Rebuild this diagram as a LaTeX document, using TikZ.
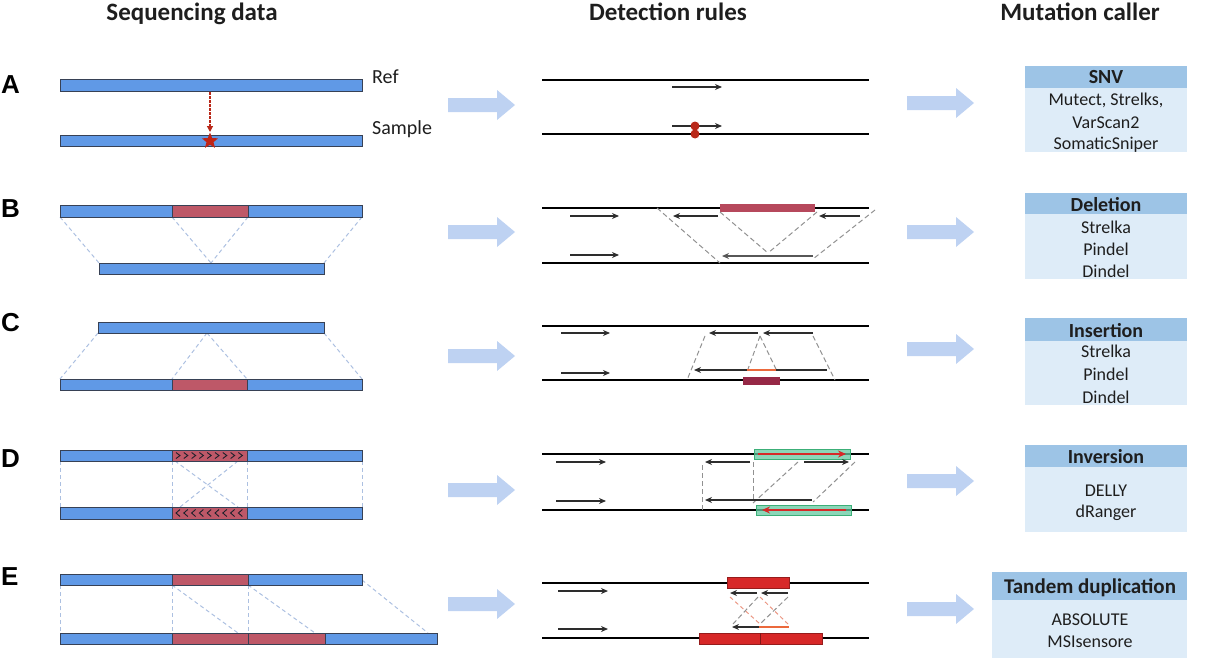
\documentclass[tikz,border=0pt]{standalone}
\usepackage{fontspec}
\setmainfont{Carlito}
\newfontfamily\arialf{Liberation Sans}
\usetikzlibrary{arrows.meta,shapes.geometric}
\definecolor{barblue}{RGB}{96,153,230}
\definecolor{barline}{RGB}{55,65,85}
\definecolor{barred}{RGB}{190,88,104}
\definecolor{guidec}{RGB}{172,192,225}
\definecolor{gdash}{RGB}{145,145,145}
\definecolor{bigarr}{RGB}{190,210,242}
\definecolor{hdrblue}{RGB}{157,196,230}
\definecolor{bodyblue}{RGB}{222,236,248}
\definecolor{readgray}{RGB}{45,45,45}
\definecolor{dotred}{RGB}{185,40,25}
\definecolor{bred}{RGB}{182,72,92}
\definecolor{cred}{RGB}{150,40,70}
\definecolor{ered}{RGB}{215,40,40}
\definecolor{ored}{RGB}{235,105,60}
\definecolor{pinkd}{RGB}{235,150,130}
\definecolor{greenf}{RGB}{100,200,160}
\definecolor{greend}{RGB}{60,175,120}
\definecolor{txt}{RGB}{30,30,30}
\tikzset{
  bar/.style={fill=barblue, draw=barline, line width=0.8pt},
  redseg/.style={fill=barred, draw=barline, line width=0.8pt},
  guidel/.style={draw=guidec, line width=1pt, dash pattern=on 4pt off 3pt},
  chrom/.style={line width=2.6pt, black},
  readarr/.style={line width=1.6pt, draw=readgray, -{Stealth[length=7pt,width=6pt]}},
  gd/.style={draw=gdash, line width=1pt, dash pattern=on 5pt off 3pt},
  lab/.style={font=\arialf\bfseries\fontsize{26}{26}\selectfont, anchor=base west, inner sep=0pt},
  coltitle/.style={font=\bfseries\fontsize{25}{25}\selectfont, anchor=base, inner sep=0pt, text=txt},
  hdr/.style={fill=hdrblue},
  bodyb/.style={fill=bodyblue},
  htxt/.style={font=\bfseries\fontsize{20}{20}\selectfont, anchor=base, inner sep=0pt, text=txt},
  btxt/.style={font=\fontsize{18}{18}\selectfont, anchor=base, inner sep=0pt, text=txt},
  side/.style={font=\fontsize{20}{20}\selectfont, anchor=base west, inner sep=0pt, text=txt},
  bigarrow/.pic={\fill[bigarr] (0,-7) -- (49,-7) -- (49,-15) -- (67,0) -- (49,15) -- (49,7) -- (0,7) -- cycle;}
}
\begin{document}
\begin{tikzpicture}[x=1pt,y=-1pt]
\useasboundingbox (0,0) rectangle (1223,661);
% column titles
\node[coltitle] (t1) at (192,21) {Sequencing data};
\node[coltitle] (t2) at (668,21) {Detection rules};
\node[coltitle] (t3) at (1080,21) {Mutation caller};
% row labels
\node[lab] (lA) at (1,93) {A};
\node[lab] (lB) at (1,217) {B};
\node[lab] (lC) at (1,331) {C};
\node[lab] (lD) at (1,467) {D};
\node[lab] (lE) at (1,585) {E};
% big arrows
\foreach \y in {105,232,356,490,604} \pic at (448,\y) {bigarrow};
\foreach \y in {103,232,349,481,609} \pic at (907,\y) {bigarrow};

% ===== Row A left
\draw[bar] (60,79) rectangle (362,91);
\draw[bar] (60,135) rectangle (362,146);
\draw[dotred, line width=1.2pt, dash pattern=on 2.5pt off 1.5pt, -{Triangle[length=6pt,width=6pt]}] (210,92) -- (210,132);
\node[star, star points=5, star point ratio=2.3, fill=dotred!90!red, minimum size=17pt, inner sep=0pt] (st) at (210,141) {};
\node[side] (ref) at (372,83) {Ref};
\node[side] (smp) at (372,134) {Sample};
% ===== Row A middle
\draw[chrom] (542,80) -- (869,80);
\draw[chrom] (542,134) -- (869,134);
\draw[readarr] (672,87) -- (722,87);
\draw[readarr] (672,126) -- (722,126);
\fill[dotred] (695,126) circle (4.5pt);
\fill[dotred] (695,134) circle (4.5pt);

% ===== Row B left
\draw[guidel] (60,217) -- (99,263);
\draw[guidel] (172,217) -- (211,263);
\draw[guidel] (248,217) -- (211,263);
\draw[guidel] (362,217) -- (324,263);
\draw[bar] (60,205) rectangle (362,217);
\draw[redseg] (172,205) rectangle (248,217);
\draw[bar] (99,263) rectangle (324,274);
% ===== Row B middle
\draw[chrom] (542,208) -- (869,208);
\draw[chrom] (542,263) -- (869,263);
\fill[bred] (720,204) rectangle (815,212);
\draw[gd] (657,208) -- (720,263);
\draw[gd] (720,212) -- (768,253);
\draw[gd] (817,212) -- (768,253);
\draw[gd] (875,210) -- (813,259);
\draw[readarr] (570,216) -- (619,216);
\draw[readarr] (718,216) -- (673,216);
\draw[readarr] (860,216) -- (819,216);
\draw[readarr] (570,255) -- (619,255);
\draw[readarr, line width=2pt, draw=gdash!60!black] (813,256) -- (722,256);

% ===== Row C left
\draw[guidel] (98,333) -- (60,379);
\draw[guidel] (207,333) -- (172,379);
\draw[guidel] (207,333) -- (247,379);
\draw[guidel] (324,333) -- (362,379);
\draw[bar] (98,322) rectangle (324,333);
\draw[bar] (60,379) rectangle (362,390);
\draw[redseg] (172,379) rectangle (247,390);
% ===== Row C middle
\draw[chrom] (542,326) -- (869,326);
\draw[chrom] (542,380) -- (869,380);
\draw[gd] (705,336) -- (687,380);
\draw[gd] (760,336) -- (748,369);
\draw[gd] (760,336) -- (776,369);
\draw[gd] (813,336) -- (835,380);
\draw[readarr] (561,333) -- (610,333);
\draw[readarr] (758,333) -- (709,333);
\draw[readarr] (813,333) -- (763,333);
\draw[readarr] (561,373) -- (610,373);
\draw[readarr] (827,370) -- (694,370);
\draw[ored, line width=2.8pt] (747,370) -- (776,370);
\fill[cred] (743,377) rectangle (780,385);

% ===== Row D left
\foreach \x in {60,172,247,362} \draw[guidel] (\x,461) -- (\x,507);
\draw[guidel] (175,461) -- (238,507);
\draw[guidel] (238,461) -- (180,507);
\draw[bar] (60,450) rectangle (362,461);
\draw[redseg] (172,450) rectangle (247,461);
\foreach \i in {0,...,8} \draw[barline!50!black, line width=0.9pt] ({176+\i*7.8},452.5) -- ({180+\i*7.8},455.5) -- ({176+\i*7.8},458.5);
\draw[bar] (60,507) rectangle (362,519);
\draw[redseg] (172,507) rectangle (247,519);
\foreach \i in {0,...,8} \draw[barline!50!black, line width=0.9pt] ({180+\i*7.8},509.5) -- ({176+\i*7.8},513) -- ({180+\i*7.8},516.5);
% ===== Row D middle
\draw[chrom] (542,454) -- (869,454);
\draw[chrom] (542,510) -- (869,510);
\filldraw[fill=greenf, fill opacity=0.75, draw=greend, line width=1pt] (754,449) rectangle (850,459);
\filldraw[fill=greenf, fill opacity=0.75, draw=greend, line width=1pt] (756,505) rectangle (851,515);
\draw[ered, line width=1.8pt, -{Stealth[length=8pt,width=7pt]}] (758,454) -- (846,454);
\draw[ered, line width=1.8pt, -{Stealth[length=8pt,width=7pt]}] (846,510) -- (762,510);
\draw[gd] (702,465) -- (702,510);
\draw[gd] (753,462) -- (753,503);
\draw[gd] (798,462) -- (753,503);
\draw[gd] (855,462) -- (813,502);
\draw[readarr] (556,462) -- (606,462);
\draw[readarr] (750,462) -- (705,462);
\draw[readarr] (804,462) -- (849,462);
\draw[readarr] (556,501) -- (606,501);
\draw[readarr] (812,500) -- (705,500);

% ===== Row E left
\foreach \x in {60,172,248} \draw[guidel] (\x,585) -- (\x,633);
\draw[guidel] (172,585) -- (238,633);
\draw[guidel] (248,585) -- (315,633);
\draw[guidel] (362,580) -- (428,633);
\draw[bar] (60,574) rectangle (362,585);
\draw[redseg] (172,574) rectangle (248,585);
\draw[bar] (60,633) rectangle (437,644);
\draw[redseg] (172,633) rectangle (248,644);
\draw[redseg] (248,633) rectangle (325,644);
% ===== Row E middle
\draw[chrom] (542,583) -- (869,583);
\draw[chrom] (542,638) -- (869,638);
\filldraw[fill=ered, draw=ered!70!black, line width=0.6pt] (727,577) rectangle (789,588);
\filldraw[fill=ered, draw=ered!70!black, line width=0.6pt] (699,633) rectangle (822,644);
\draw[ered!60!black, line width=0.8pt] (760,633) -- (760,644);
\draw[draw=pinkd, line width=1pt, dash pattern=on 4pt off 3pt] (730,597) -- (760,624);
\draw[draw=pinkd, line width=1pt, dash pattern=on 4pt off 3pt] (760,597) -- (788,624);
\draw[gd] (758,597) -- (733,624);
\draw[gd] (788,597) -- (760,624);
\draw[readarr] (558,591) -- (608,591);
\draw[readarr] (757,593) -- (730,593);
\draw[readarr] (788,593) -- (761,593);
\draw[readarr] (558,629) -- (608,629);
\draw[readarr] (759,627) -- (732,627);
\draw[ored, line width=1.8pt] (759,627) -- (789,627);

% ===== Right boxes
% SNV
\fill[bodyb] (1025,88) rectangle (1187,152);
\fill[hdr] (1025,66) rectangle (1187,88);
\node[htxt] (snv) at (1106,84) {SNV};
\node[btxt] (snv1) at (1106,105) {Mutect, Strelks,};
\node[btxt] (snv2) at (1106,128) {VarScan2};
\node[btxt] (snv3) at (1106,149) {SomaticSniper};
% Deletion
\fill[bodyb] (1025,214) rectangle (1187,279);
\fill[hdr] (1025,193) rectangle (1187,214);
\node[htxt] (del) at (1106,211) {Deletion};
\node[btxt] (del1) at (1106,233) {Strelka};
\node[btxt] (del2) at (1106,255) {Pindel};
\node[btxt] (del3) at (1106,277) {Dindel};
% Insertion
\fill[bodyb] (1025,341) rectangle (1187,405);
\fill[hdr] (1025,318) rectangle (1187,341);
\node[htxt] (ins) at (1106,337) {Insertion};
\node[btxt] (ins1) at (1106,357) {Strelka};
\node[btxt] (ins2) at (1106,380) {Pindel};
\node[btxt] (ins3) at (1106,403) {Dindel};
% Inversion
\fill[bodyb] (1025,467) rectangle (1187,532);
\fill[hdr] (1025,445) rectangle (1187,467);
\node[htxt] (inv) at (1106,463) {Inversion};
\node[btxt] (inv1) at (1106,496) {DELLY};
\node[btxt] (inv2) at (1106,517) {dRanger};
% Tandem duplication
\fill[bodyb] (992,600) rectangle (1187,658);
\fill[hdr] (992,572) rectangle (1187,600);
\node[htxt, font=\bfseries\fontsize{21}{21}\selectfont] (tan) at (1090,593) {Tandem duplication};
\node[btxt] (tan1) at (1090,625) {ABSOLUTE};
\node[btxt] (tan2) at (1090,647) {MSIsensore};
\end{tikzpicture}
\end{document}
